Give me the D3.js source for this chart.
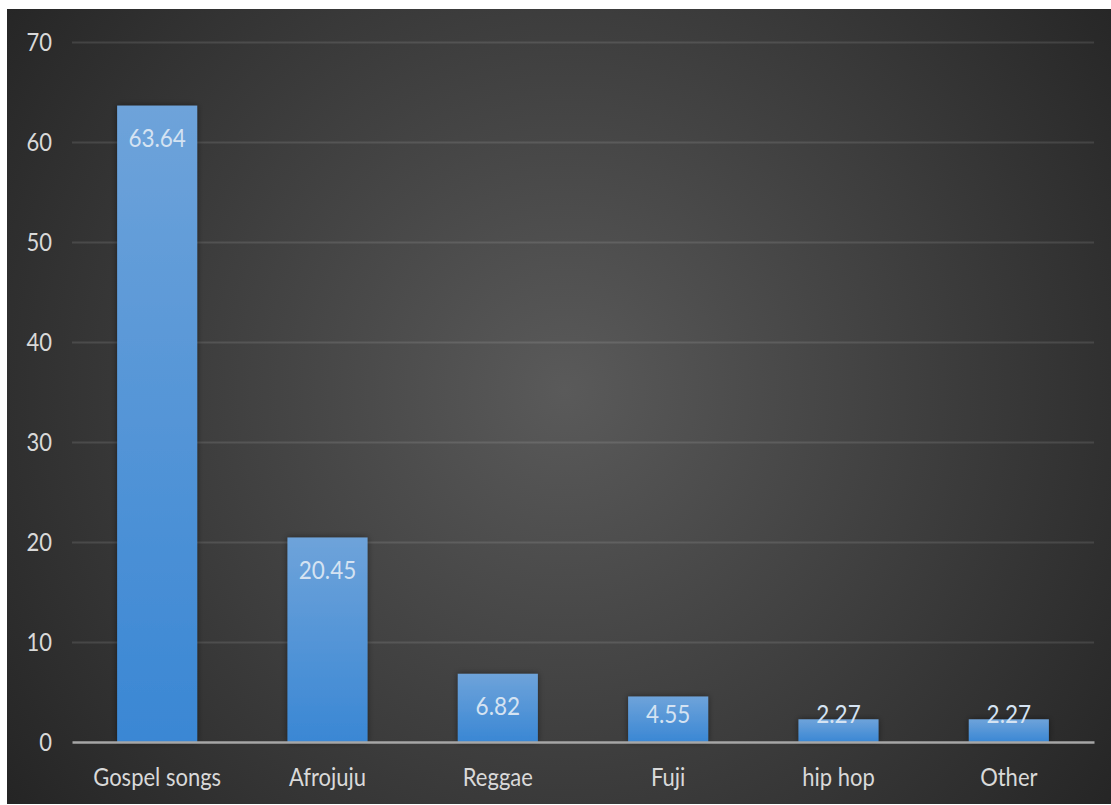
<!DOCTYPE html>
<html>
<head>
<meta charset="utf-8">
<script src="https://cdn.jsdelivr.net/npm/d3@7"></script>
<style>
  html, body { margin: 0; padding: 0; background: #fff; }
  svg { display: block; }
  text { font-family: Lato, "Open Sans", sans-serif; }
</style>
</head>
<body>
<div id="vis"></div>
<script>
// chart data
const categories = ["Gospel songs", "Afrojuju", "Reggae", "Fuji", "hip hop", "Other"];
const values = [63.64, 20.45, 6.82, 4.55, 2.27, 2.27];
const yTicks = [0, 10, 20, 30, 40, 50, 60, 70];

const width = 1111, height = 805;
const plotLeft = 72, plotRight = 1094, plotTop = 42, plotBottom = 742;
const stretch = "scale(1,1.13)"; // the source text is a bit taller than Lato

const svg = d3.select("#vis").append("svg")
    .attr("width", width)
    .attr("height", height);

const defs = svg.append("defs");

// dark radial background
const bg = defs.append("radialGradient")
    .attr("id", "bg")
    .attr("gradientUnits", "userSpaceOnUse")
    .attr("cx", 565).attr("cy", 390).attr("r", 690);
bg.append("stop").attr("offset", "0%").attr("stop-color", "#5a5a5a");
bg.append("stop").attr("offset", "100%").attr("stop-color", "#252525");

// bar fill
const barGrad = defs.append("linearGradient")
    .attr("id", "bar")
    .attr("x1", 0).attr("y1", 0).attr("x2", 0).attr("y2", 1);
barGrad.append("stop").attr("offset", "0%").attr("stop-color", "#6ea3da");
barGrad.append("stop").attr("offset", "100%").attr("stop-color", "#3a87d4");

const shadow = defs.append("filter").attr("id", "shadow")
    .attr("x", "-20%").attr("y", "-20%").attr("width", "140%").attr("height", "140%");
shadow.append("feDropShadow")
    .attr("dx", 0).attr("dy", 0).attr("stdDeviation", 3)
    .attr("flood-color", "#000").attr("flood-opacity", 0.45);

svg.append("rect")
    .attr("x", 7).attr("y", 9)
    .attr("width", width - 7).attr("height", height - 10)
    .attr("fill", "url(#bg)");

const x = d3.scaleBand()
    .domain(categories)
    .range([plotLeft, plotRight])
    .paddingInner(0.53)
    .paddingOuter(0.265);

const y = d3.scaleLinear()
    .domain([0, 70])
    .range([plotBottom, plotTop]);

// gridlines + y labels
const yAxis = svg.append("g")
    .attr("transform", `translate(${plotLeft},0)`)
    .call(d3.axisLeft(y).tickValues(yTicks).tickSize(-(plotRight - plotLeft)).tickPadding(20));
yAxis.select(".domain").remove();
yAxis.selectAll(".tick line")
    .attr("stroke", "#fff")
    .attr("stroke-opacity", d => d === 0 ? 0 : 0.11)
    .attr("stroke-width", 2);
yAxis.selectAll(".tick text")
    .attr("fill", "#d9d9d9")
    .attr("font-size", 22)
    .attr("dy", "0.33em")
    .attr("transform", stretch);

// bars
svg.append("g").selectAll("rect")
    .data(values)
    .join("rect")
    .attr("x", (d, i) => x(categories[i]))
    .attr("y", d => y(d))
    .attr("width", x.bandwidth())
    .attr("height", d => y(0) - y(d))
    .attr("fill", "url(#bar)")
    .attr("filter", "url(#shadow)");

// x axis
const xAxis = svg.append("g")
    .attr("transform", `translate(0,${plotBottom})`)
    .call(d3.axisBottom(x).tickSize(0).tickPadding(23));
xAxis.select(".domain")
    .attr("stroke", "#a6a6a6")
    .attr("stroke-width", 2.5);
xAxis.selectAll(".tick text")
    .attr("fill", "#d9d9d9")
    .attr("font-size", 22)
    .attr("transform", stretch);

// value labels
svg.append("g").selectAll("text")
    .data(values)
    .join("text")
    .attr("transform", (d, i) => {
        const cx = x(categories[i]) + x.bandwidth() / 2;
        const by = Math.min(y(d) + 41, y(0) - 19);
        return `translate(${cx},${by}) ${stretch}`;
    })
    .attr("text-anchor", "middle")
    .attr("fill", "#d5e3f2")
    .attr("font-size", 22.5)
    .text(d => d.toFixed(2));
</script>
</body>
</html>
